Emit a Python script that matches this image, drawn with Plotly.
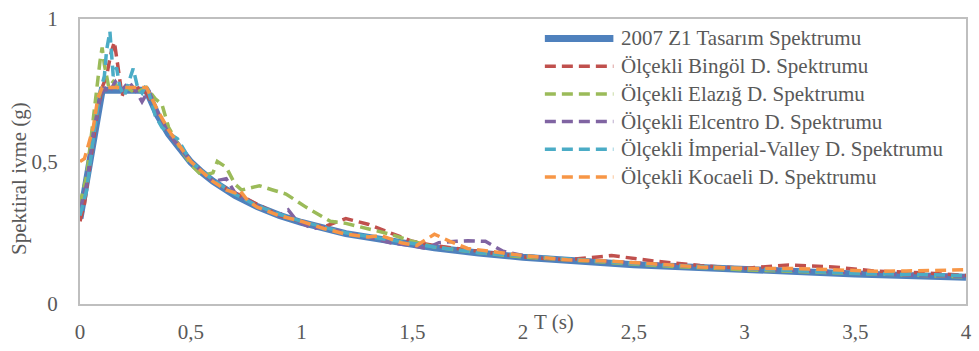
import plotly.graph_objects as go

# Period axis (s) and spectral acceleration (g) for each spectrum
design_T = [0, 0.1, 0.3, 0.35, 0.4, 0.45, 0.5, 0.55, 0.6, 0.7, 0.8, 0.9, 1.0,
            1.2, 1.4, 1.6, 1.8, 2.0, 2.5, 3.0, 3.5, 4.0]
design_S = [0.30, 0.75, 0.75, 0.663, 0.596, 0.542, 0.498, 0.462, 0.431, 0.381,
            0.342, 0.311, 0.286, 0.247, 0.219, 0.197, 0.179, 0.164, 0.138,
            0.119, 0.105, 0.094]

bingol_T = [0, 0.02, 0.05, 0.08, 0.10, 0.12, 0.14, 0.155, 0.17, 0.19, 0.21,
            0.24, 0.27, 0.30, 0.35, 0.40, 0.5, 0.6, 0.7, 0.8, 0.9, 1.0, 1.1,
            1.2, 1.3, 1.4, 1.5, 1.6, 1.8, 2.0, 2.2, 2.4, 2.6, 2.8, 3.0, 3.2,
            3.4, 3.6, 3.8, 4.0]
bingol_S = [0.29, 0.35, 0.52, 0.68, 0.76, 0.80, 0.88, 0.92, 0.84, 0.73, 0.77,
            0.75, 0.76, 0.74, 0.67, 0.60, 0.50, 0.43, 0.39, 0.35, 0.31, 0.29,
            0.27, 0.30, 0.28, 0.25, 0.22, 0.205, 0.185, 0.165, 0.155, 0.17,
            0.15, 0.135, 0.125, 0.137, 0.13, 0.115, 0.11, 0.10]

elazig_T = [0, 0.03, 0.06, 0.08, 0.09, 0.10, 0.11, 0.13, 0.15, 0.18, 0.21,
            0.25, 0.30, 0.34, 0.37, 0.40, 0.45, 0.5, 0.55, 0.6, 0.62, 0.66,
            0.7, 0.73, 0.81, 0.87, 0.93, 1.02, 1.13, 1.2, 1.3, 1.4, 1.5, 1.6,
            1.8, 2.0, 2.3, 2.6, 3.0, 3.4, 3.8, 4.0]
elazig_S = [0.35, 0.45, 0.65, 0.80, 0.85, 0.90, 0.84, 0.76, 0.78, 0.75, 0.76,
            0.74, 0.76, 0.72, 0.70, 0.62, 0.55, 0.49, 0.45, 0.46, 0.50, 0.48,
            0.42, 0.40, 0.415, 0.40, 0.386, 0.34, 0.29, 0.283, 0.265, 0.245,
            0.22, 0.20, 0.18, 0.165, 0.15, 0.135, 0.12, 0.11, 0.10, 0.095]

elcentro_T = [0, 0.03, 0.06, 0.09, 0.11, 0.13, 0.16, 0.19, 0.22, 0.25, 0.28,
              0.31, 0.35, 0.40, 0.5, 0.6, 0.66, 0.70, 0.8, 0.9, 0.94, 0.98,
              1.05, 1.1, 1.2, 1.3, 1.4, 1.5, 1.56, 1.62, 1.7, 1.75, 1.83, 1.91,
              2.0, 2.2, 2.5, 2.8, 3.0, 3.2, 3.5, 3.8, 4.0]
elcentro_S = [0.33, 0.42, 0.60, 0.72, 0.76, 0.74, 0.78, 0.75, 0.78, 0.75, 0.71,
              0.75, 0.67, 0.60, 0.50, 0.43, 0.44, 0.39, 0.345, 0.31, 0.33,
              0.29, 0.265, 0.27, 0.25, 0.235, 0.215, 0.205, 0.195, 0.215,
              0.22, 0.222, 0.22, 0.185, 0.17, 0.155, 0.145, 0.13, 0.125, 0.12,
              0.11, 0.10, 0.097]

imperial_T = [0, 0.03, 0.06, 0.09, 0.11, 0.12, 0.135, 0.15, 0.165, 0.18, 0.20,
              0.22, 0.24, 0.26, 0.28, 0.30, 0.34, 0.37, 0.40, 0.44, 0.5, 0.6,
              0.7, 0.8, 0.9, 1.0, 1.2, 1.4, 1.6, 1.8, 2.0, 2.5, 3.0, 3.5, 4.0]
imperial_S = [0.31, 0.40, 0.58, 0.74, 0.80, 0.89, 0.956, 0.80, 0.83, 0.76,
              0.73, 0.78, 0.826, 0.76, 0.74, 0.77, 0.66, 0.62, 0.60, 0.58,
              0.50, 0.435, 0.385, 0.345, 0.315, 0.29, 0.25, 0.225, 0.20, 0.18,
              0.17, 0.142, 0.125, 0.108, 0.10]

kocaeli_T = [0, 0.02, 0.035, 0.06, 0.08, 0.10, 0.15, 0.2, 0.25, 0.3, 0.35,
             0.4, 0.5, 0.6, 0.66, 0.70, 0.72, 0.76, 0.8, 0.9, 1.0, 1.1, 1.2,
             1.3, 1.36, 1.45, 1.52, 1.6, 1.67, 1.75, 1.85, 2.0, 2.2, 2.4, 2.6,
             2.8, 3.0, 3.2, 3.4, 3.6, 3.73, 3.85, 4.0]
kocaeli_S = [0.50, 0.51, 0.55, 0.62, 0.72, 0.76, 0.76, 0.76, 0.76, 0.76, 0.68,
             0.61, 0.50, 0.43, 0.40, 0.39, 0.40, 0.36, 0.34, 0.31, 0.29, 0.265,
             0.245, 0.235, 0.24, 0.215, 0.205, 0.245, 0.22, 0.195, 0.185,
             0.17, 0.155, 0.15, 0.14, 0.13, 0.125, 0.125, 0.12, 0.115, 0.116,
             0.118, 0.12]

series_names = [
    "2007 Z1 Tasarım Spektrumu",
    "Ölçekli Bingöl D. Spektrumu",
    "Ölçekli Elazığ D. Spektrumu",
    "Ölçekli Elcentro D. Spektrumu",
    "Ölçekli İmperial-Valley D. Spektrumu",
    "Ölçekli Kocaeli D. Spektrumu",
]
series_T = [design_T, bingol_T, elazig_T, elcentro_T, imperial_T, kocaeli_T]
series_S = [design_S, bingol_S, elazig_S, elcentro_S, imperial_S, kocaeli_S]
series_colors = ["#4F81BD", "#C0504D", "#9BBB59", "#8064A2", "#4BACC6", "#F79646"]

x_ticks = [0, 0.5, 1, 1.5, 2, 2.5, 3, 3.5, 4]
x_ticktext = ["0", "0,5", "1", "1,5", "2", "2,5", "3", "3,5", "4"]
y_ticks = [0, 0.5, 1]
y_ticktext = ["0", "0,5", "1"]

FONT = "Times New Roman, DejaVu Serif, serif"
TEXT = "#595959"
DASH = "11px,6px"

fig = go.Figure()
for i, (name, t, s, c) in enumerate(zip(series_names, series_T, series_S, series_colors)):
    fig.add_trace(go.Scatter(
        x=t, y=s, name=name, mode="lines",
        line=dict(color=c, width=7 if i == 0 else 3.5,
                  dash="solid" if i == 0 else DASH),
        showlegend=False,
    ))

# Plot area geometry in pixels
W, H = 979, 351
L, R, T_, B = 80, 7, 12, 46
pw, ph = W - L - R, H - T_ - B

def px_x(px):
    return (px - L) / pw

def px_y(py):
    return (H - B - py) / ph

# Legend drawn inside the plot area
row_y = [32, 60.5, 89, 117.5, 146, 174.5]
shapes, annotations = [], []
for i, (name, c) in enumerate(zip(series_names, series_colors)):
    yy = px_y(row_y[i])
    shapes.append(dict(
        type="line", xref="paper", yref="paper",
        x0=px_x(548), x1=px_x(617), y0=yy, y1=yy,
        line=dict(color=c, width=7 if i == 0 else 3.5,
                  dash="solid" if i == 0 else DASH),
    ))
    annotations.append(dict(
        text=name, xref="paper", yref="paper", x=px_x(623), y=yy,
        xanchor="left", yanchor="middle", showarrow=False,
        font=dict(family=FONT, size=21, color=TEXT),
    ))

annotations.append(dict(
    text="Spektiral ivme (g)", xref="paper", yref="paper",
    x=px_x(18), y=px_y(176), textangle=-90, showarrow=False,
    xanchor="center", yanchor="middle",
    font=dict(family=FONT, size=21, color=TEXT),
))
annotations.append(dict(
    text="T (s)", xref="paper", yref="paper",
    x=px_x(557), y=px_y(324), showarrow=False,
    xanchor="center", yanchor="middle",
    font=dict(family=FONT, size=21, color=TEXT),
))

fig.update_layout(
    width=W, height=H,
    margin=dict(l=L, r=R, t=T_, b=B, pad=0),
    paper_bgcolor="white", plot_bgcolor="white",
    font=dict(family=FONT, size=21, color=TEXT),
    shapes=shapes, annotations=annotations,
    xaxis=dict(
        range=[0, 4], tickvals=x_ticks, ticktext=x_ticktext,
        showgrid=False, zeroline=False, showline=True, mirror=True,
        linecolor="#BFBFBF", linewidth=2, ticks="", ticklabelstandoff=8,
        tickfont=dict(family=FONT, size=21, color=TEXT),
    ),
    yaxis=dict(
        range=[0, 1], tickvals=y_ticks, ticktext=y_ticktext,
        showgrid=False, zeroline=False, showline=True, mirror=True,
        linecolor="#BFBFBF", linewidth=2, ticks="", ticklabelstandoff=16,
        tickfont=dict(family=FONT, size=21, color=TEXT),
    ),
)

fig.write_html("out.html")
